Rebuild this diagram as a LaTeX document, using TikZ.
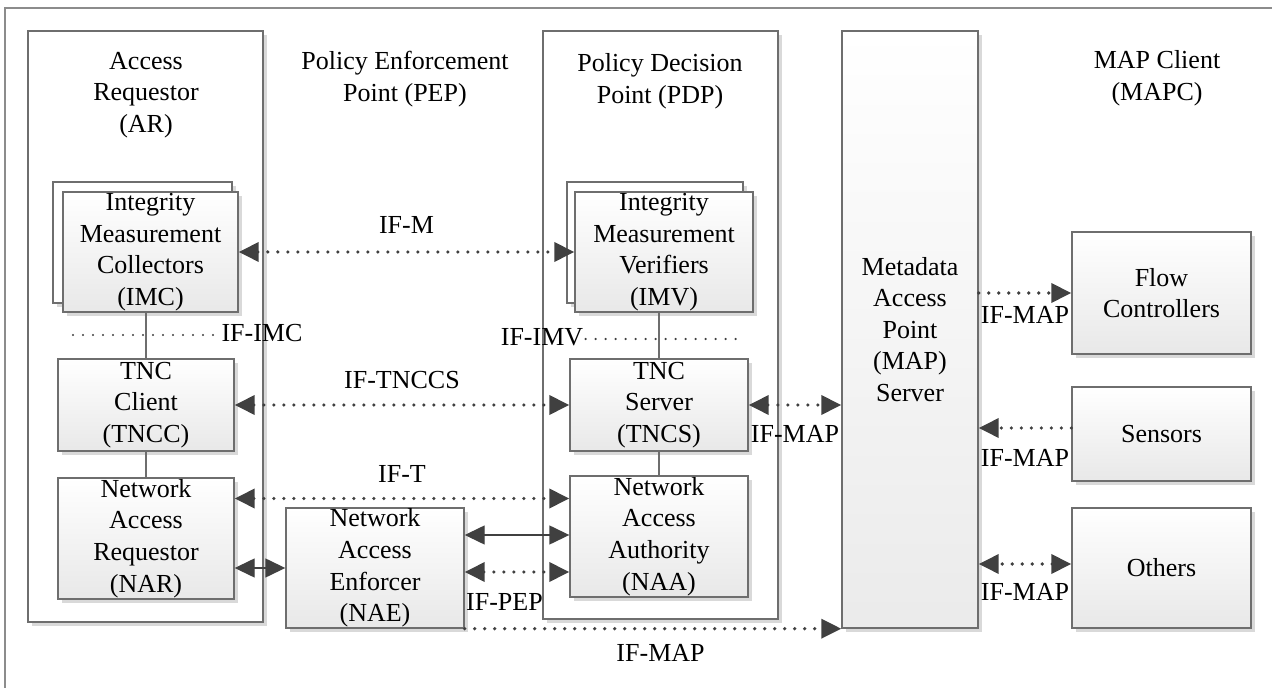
\documentclass[tikz,border=0pt]{standalone}
\usepackage{fontspec}
\setmainfont{Liberation Serif}
\usetikzlibrary{arrows.meta,shadows,calc}
\definecolor{boxline}{HTML}{6E6E6E}
\definecolor{arrowink}{HTML}{404040}
\definecolor{framegray}{HTML}{8C8C8C}
\tikzset{
    >={Triangle[length=10pt,width=9.5pt]},
    font={\fontsize{13pt}{15.8pt}\selectfont},
    frame/.style={draw=framegray, line width=0.8pt},
    group/.style={
        rectangle,
        draw=boxline, line width=0.7pt,
        fill=white,
        inner sep=0pt,
        drop shadow={shadow xshift=2pt, shadow yshift=-2pt, fill=black!15, opacity=1}
    },
    unit/.style={group, top color=white, bottom color=black!9, align=center},
    backunit/.style={group, fill=white},
    title/.style={align=center, inner sep=0pt},
    iflabel/.style={inner sep=1pt},
    tie/.style={draw=boxline, line width=0.7pt},
    link/.style={draw=arrowink, line width=0.7pt},
    dotlink/.style={draw=arrowink, line width=1.8pt, line cap=round, dash pattern=on 0pt off 5pt},
    fine dots/.style={draw=arrowink, line width=1.2pt, line cap=round, dash pattern=on 0pt off 5pt},
}

\begin{document}
\begin{tikzpicture}[x=0.5pt, y=-0.5pt]
\useasboundingbox (0,0) rectangle (1272,688);

% outer frame
\draw[frame] (1272,8) -| (5,688);

% groups
\node[group, minimum width=117.5pt, minimum height=295.5pt] (ar) at (145.5,326.5) {};
\node[group, minimum width=117.5pt, minimum height=294pt] (pdp) at (660.5,325) {};
\node[unit, bottom color=black!8, minimum width=68pt, minimum height=298.5pt] (map) at (910,329.5)
  {Metadata\\Access\\Point\\(MAP)\\Server};

% titles
\node[title] (artitle) at (146,95) {Access\\Requestor\\(AR)};
\node[title] (peptitle) at (405,79) {Policy Enforcement\\Point (PEP)};
\node[title] (pdptitle) at (660,81) {Policy Decision\\Point (PDP)};
\node[title] (mapctitle) at (1157,78) {MAP Client\\(MAPC)};

% AR side
\node[backunit, minimum width=89.5pt, minimum height=60.5pt] (imcback) at (142.5,242.5) {};
\node[unit, minimum width=87.5pt, minimum height=60pt] (imc) at (150.5,252)
  {Integrity\\Measurement\\Collectors\\(IMC)};
\node[unit, minimum width=88pt, minimum height=46pt] (tncc) at (146,405) {TNC\\Client\\(TNCC)};
\node[unit, minimum width=88pt, minimum height=60.5pt] (nar) at (146,538.5)
  {Network\\Access\\Requestor\\(NAR)};

% PEP
\node[unit, minimum width=89pt, minimum height=60pt] (nae) at (375,568)
  {Network\\Access\\Enforcer\\(NAE)};

% PDP side
\node[backunit, minimum width=88pt, minimum height=60.5pt] (imvback) at (655,242.5) {};
\node[unit, minimum width=89pt, minimum height=60pt] (imv) at (664,252)
  {Integrity\\Measurement\\Verifiers\\(IMV)};
\node[unit, minimum width=89pt, minimum height=46pt] (tncs) at (659,405) {TNC\\Server\\(TNCS)};
\node[unit, minimum width=89pt, minimum height=60.5pt] (naa) at (659,536.5)
  {Network\\Access\\Authority\\(NAA)};

% MAP clients
\foreach \n/\t/\y/\h in {flow/{Flow\\Controllers}/293/61pt, sensors/Sensors/434/47pt, others/Others/568/60pt}
  \node[unit, minimum width=89.5pt, minimum height=\h] (\n) at (1161.5,\y) {\t};

% stack lines
\draw[tie] (tncc.north) -- (tncc.north |- imc.south);
\draw[tie] (tncc.south) -- (nar.north);
\draw[tie] (tncs.north) -- (tncs.north |- imv.south);
\draw[tie] (tncs.south) -- (naa.north);

% IF-IMC / IF-IMV
\node[iflabel] (ifimc) at (262,333) {IF-IMC};
\coordinate (imcdots) at (73,335);
\draw[fine dots] (imcdots) -- (imcdots -| ifimc.west);
\node[iflabel] (ifimv) at (542,337) {IF-IMV};
\coordinate (imvdots) at (740,339);
\draw[fine dots] (ifimv.east |- imvdots) -- (imvdots);

% interfaces AR <-> PDP
\draw[dotlink, <->] (imc.east) -- (imv.west)
  node [midway, above=7.5pt, iflabel] (ifm) {IF-M};
\draw[dotlink, <->] (tncc.east) -- (tncs.west)
  node [midway, above=6pt, iflabel] (iftnccs) {IF-TNCCS};
\draw[dotlink, <->] ([yshift=20pt]nar.east) -- ([yshift=20pt]nar.east -| naa.west)
  node [midway, above=6pt, iflabel] (ift) {IF-T};

% PEP links
\draw[link, <->] (nar.east |- nae.west) -- (nae.west);
\draw[link, <->] ([yshift=16.5pt]nae.east) -- ([yshift=16.5pt]nae.east -| naa.west);
\draw[dotlink, <->] ([yshift=-2pt]nae.east) -- ([yshift=-2pt]nae.east -| naa.west)
  node [pos=0.38, below=9pt, iflabel] (ifpep) {IF-PEP};
\draw[dotlink, ->] (nae.south east) -- (nae.south east -| map.west)
  node [pos=0.52, below=6pt, iflabel] (ifmapnae) {IF-MAP};

% MAP links
\draw[dotlink, <->] (tncs.east) -- (tncs.east -| map.west)
  node [midway, below=8.5pt, iflabel] (ifmaptncs) {IF-MAP};
\draw[dotlink, ->] (flow.west -| map.east) -- (flow.west)
  node [midway, below=5pt, iflabel] (ifmapflow) {IF-MAP};
\draw[dotlink, ->] ([yshift=3pt]sensors.west) -- ([yshift=3pt]sensors.west -| map.east)
  node [midway, below=9pt, iflabel] (ifmapsens) {IF-MAP};
\draw[dotlink, <->] ([yshift=2pt]others.west) -- ([yshift=2pt]others.west -| map.east)
  node [midway, below=8pt, iflabel] (ifmapoth) {IF-MAP};

\end{tikzpicture}
\end{document}
